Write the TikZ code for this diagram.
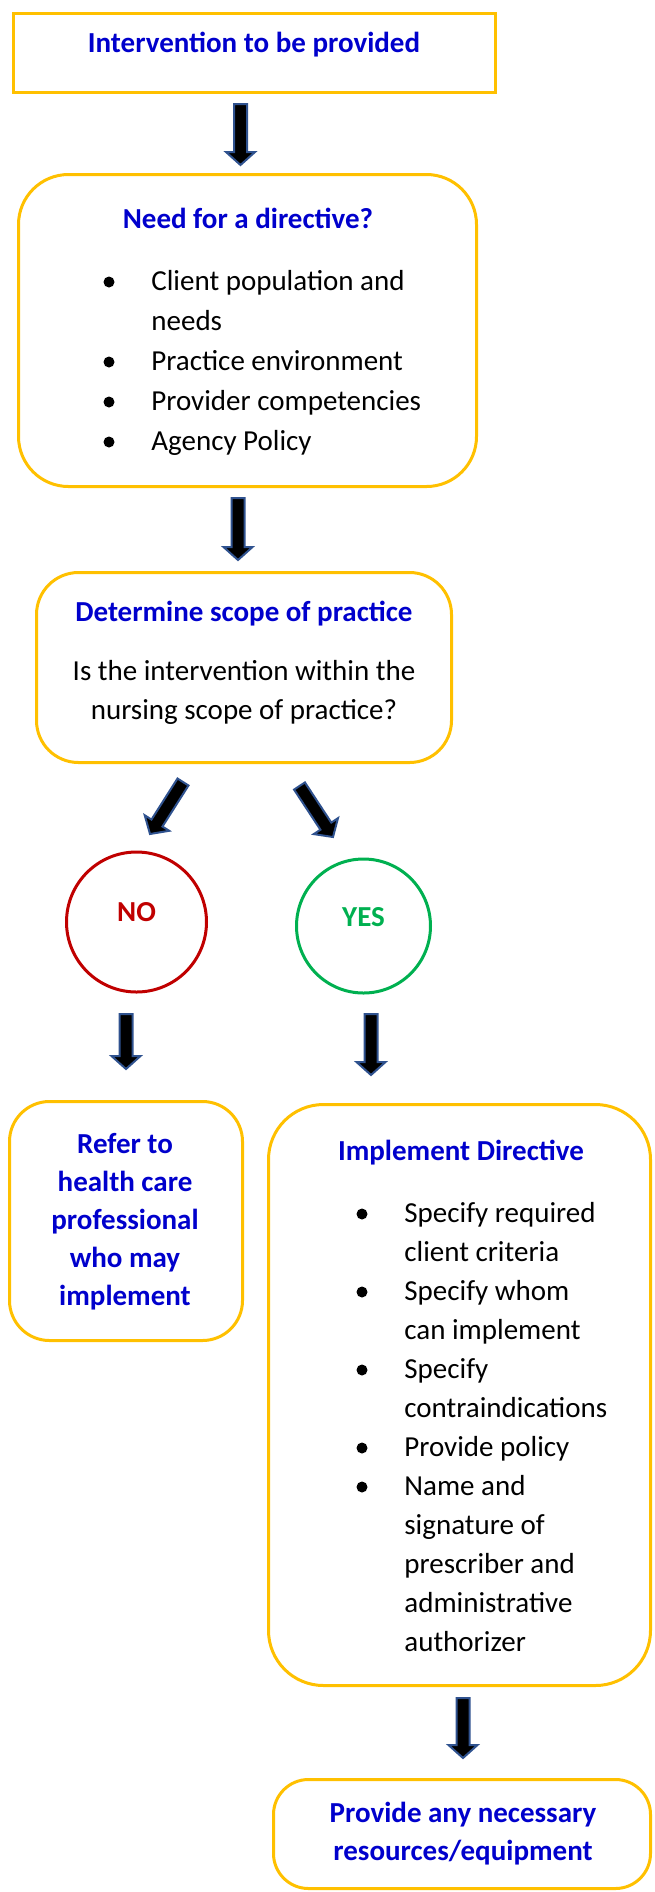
\documentclass[tikz,border=0pt]{standalone}
\usepackage{fontspec}
\setmainfont{Carlito}
\usetikzlibrary{calc}

\definecolor{gold}{HTML}{FFC000}
\definecolor{headblue}{HTML}{0000CC}
\definecolor{nored}{HTML}{C00000}
\definecolor{yesgreen}{HTML}{00B050}
\definecolor{arrowedge}{HTML}{2F528F}

\newcommand{\blockarrow}[2]{%
\coordinate (bh) at ($(#2)!6.5pt!(#1)$);
\draw[blockarrow] ($(#1)!3.25pt!90:(#2)$) -- ($(bh)!3.25pt!90:(#2)$) -- ($(bh)!7.25pt!90:(#2)$) -- (#2)
 -- ($(bh)!7.25pt!-90:(#2)$) -- ($(bh)!3.25pt!-90:(#2)$) -- ($(#1)!3.25pt!-90:(#2)$) -- cycle;}

\begin{document}
\begin{tikzpicture}[x=0.5pt,y=-0.5pt,
box/.style={draw=gold, line width=1.5pt, inner sep=0pt},
ring/.style={circle, line width=1.5pt, inner sep=0pt},
head/.style={font=\bfseries\fontsize{14.5}{19}\selectfont, text=headblue, anchor=base, align=center, inner sep=0pt},
body/.style={font=\fontsize{14.5}{19.5}\selectfont, anchor=base west, align=left, inner sep=0pt},
blockarrow/.style={draw=arrowedge, fill=black, line width=1pt}]

\useasboundingbox (0,0) rectangle (654,1892);

\node[box, minimum width=241pt, minimum height=39.5pt] (intv) at (254.5,53) {};
\node[box, rounded corners=25pt, minimum width=229pt, minimum height=156pt] (need) at (247.5,330.5) {};
\node[box, rounded corners=21pt, minimum width=207.5pt, minimum height=95pt] (scope) at (244,667.5) {};
\node[ring, draw=nored, minimum size=70pt] (no) at (136.5,922) {};
\node[ring, draw=yesgreen, minimum size=67pt] (yes) at (363.5,926) {};
\node[box, rounded corners=20pt, minimum width=116.5pt, minimum height=119.5pt] (refer) at (126,1221) {};
\node[box, rounded corners=27.5pt, minimum width=191pt, minimum height=290.5pt] (impl) at (459.5,1395) {};
\node[box, rounded corners=17.5pt, minimum width=188.5pt, minimum height=54.5pt] (prov) at (462,1834) {};

\node[head] (intv-t) at (254,52) {Intervention to be provided};

\node[head] (need-t) at (248,228) {Need for a directive?};
\node[body, font=\fontsize{14.5}{20}\selectfont] (need-b) at (151,450) {Client population and\\needs\\Practice environment\\Provider competencies\\Agency Policy};
\foreach \y in {290,370,410,450}
  \fill (109,\y-8) circle (2.75pt);

\node[head] (scope-t) at (244,621) {Determine scope of practice};
\node[body, anchor=base, align=center] (scope-b) at (244,719) {Is the intervention within the\\nursing scope of practice?};

\node[head, text=nored] (no-t) at (136.5,921) {NO};
\node[head, text=yesgreen] (yes-t) at (363.5,926) {YES};

\node[head] (refer-t) at (125,1305) {Refer to\\health care\\professional\\who may\\implement};

\node[head] (impl-t) at (461,1160) {Implement Directive};
\node[body] (impl-b) at (404,1651) {Specify required\\client criteria\\Specify whom\\can implement\\Specify\\contraindications\\Provide policy\\Name and\\signature of\\prescriber and\\administrative\\authorizer};
\foreach \y in {1222,1300,1378,1456,1495}
  \fill (362,\y-8) circle (2.75pt);

\node[head] (prov-t) at (463,1860) {Provide any necessary\\resources/equipment};

\coordinate (a1s) at (240.5,104);
\coordinate (a1e) at (240.5,165);
\coordinate (a2s) at (238,498);
\coordinate (a2e) at (238,560);
\coordinate (a3s) at (183,782);
\coordinate (a3e) at (150,834);
\coordinate (a4s) at (299.5,786);
\coordinate (a4e) at (333,837);
\coordinate (a5s) at (126,1014);
\coordinate (a5e) at (126,1069);
\coordinate (a6s) at (371,1014);
\coordinate (a6e) at (371,1075);
\coordinate (a7s) at (463,1698);
\coordinate (a7e) at (463,1758);

\blockarrow{a1s}{a1e}
\blockarrow{a2s}{a2e}
\blockarrow{a3s}{a3e}
\blockarrow{a4s}{a4e}
\blockarrow{a5s}{a5e}
\blockarrow{a6s}{a6e}
\blockarrow{a7s}{a7e}

\end{tikzpicture}
\end{document}
